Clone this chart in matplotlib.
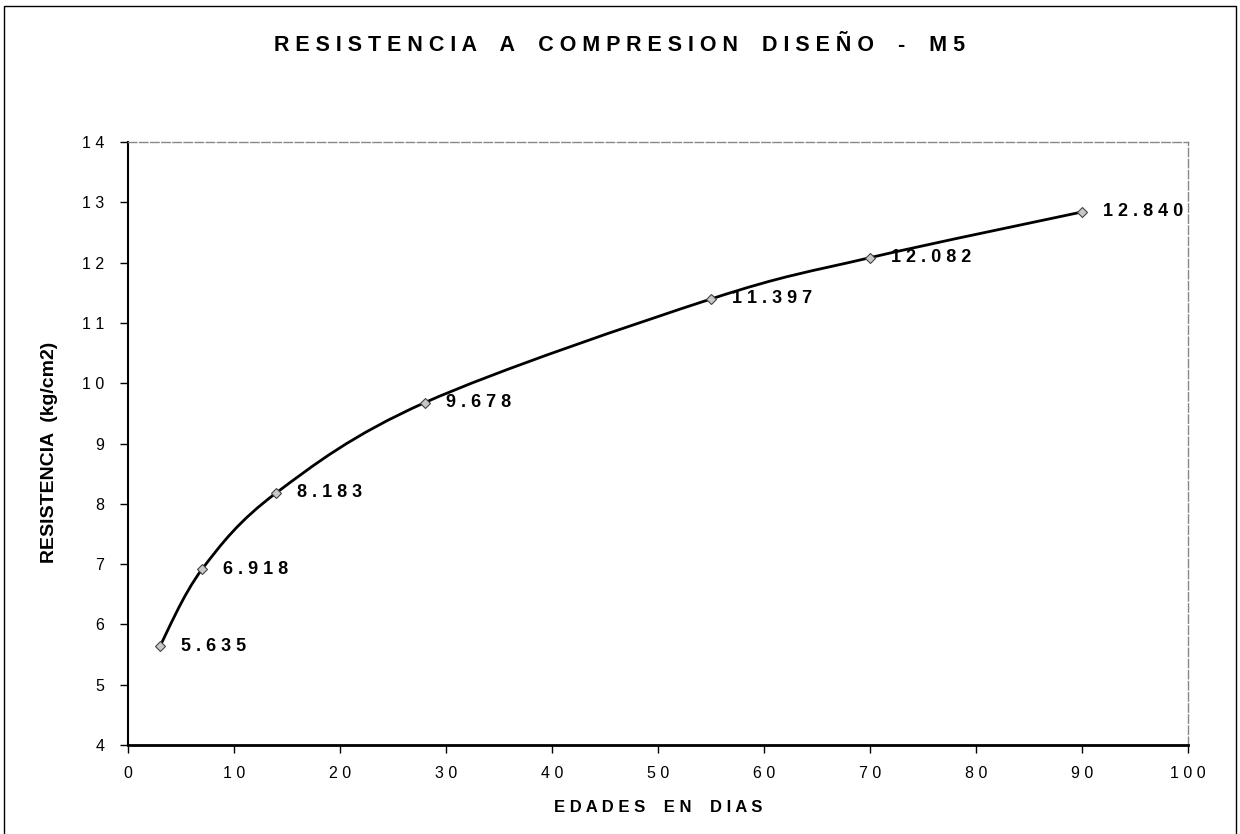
import matplotlib.pyplot as plt
from matplotlib.path import Path
from matplotlib.patches import PathPatch, Rectangle
from matplotlib.ticker import FuncFormatter
import numpy as np

plt.rcParams['font.family'] = ['Liberation Sans', 'DejaVu Sans']

edades = [3, 7, 14, 28, 55, 70, 90]
resistencia = [5.635, 6.918, 8.183, 9.678, 11.397, 12.082, 12.840]
etiquetas = ['5.635', '6.918', '8.183', '9.678', '11.397', '12.082', '12.840']
titulo = 'RESISTENCIA A COMPRESION DISEÑO - M5'


def espaciar(texto):
    # separa las letras como en el formato de la hoja original
    return ' '.join(texto).replace('   ', '    ')


def curva_suave(xs, ys):
    # curva tipo Catmull-Rom convertida a segmentos Bezier
    pts = np.column_stack([xs, ys]).astype(float)
    verts = [pts[0]]
    codes = [Path.MOVETO]
    n = len(pts)
    for i in range(n - 1):
        p0 = pts[i - 1] if i > 0 else pts[i]
        p1 = pts[i]
        p2 = pts[i + 1]
        p3 = pts[i + 2] if i + 2 < n else pts[i + 1]
        c1 = p1 + (p2 - p0) / 6
        c2 = p2 - (p3 - p1) / 6
        verts += [c1, c2, p2]
        codes += [Path.CURVE4] * 3
    return Path(verts, codes)


fig = plt.figure(figsize=(12.4, 8.34), dpi=100)
ax = fig.add_axes([0.1032, 0.1067, 0.8548, 0.7230])

ax.add_patch(PathPatch(curva_suave(edades, resistencia), fill=False,
                       edgecolor='black', lw=2, zorder=3))
ax.plot(edades, resistencia, 'D', ms=5, mfc='#c8c8c8', mec='#444444',
        mew=0.8, zorder=4)
for x, y, t in zip(edades, resistencia, etiquetas):
    ax.annotate(espaciar(t), (x, y), xytext=(15, 0), textcoords='offset points',
                ha='left', va='center', fontsize=13, fontweight='bold')

ax.set_xlim(0, 100)
ax.set_ylim(4, 14)
ax.set_xticks(range(0, 101, 10))
ax.set_yticks(range(4, 15))
digitos = FuncFormatter(lambda v, pos: ' '.join(str(int(v))))
ax.xaxis.set_major_formatter(digitos)
ax.yaxis.set_major_formatter(digitos)
ax.tick_params(direction='out', length=6, width=1, labelsize=11.5)
ax.tick_params(axis='y', pad=11)
ax.tick_params(axis='x', pad=9)

for lado in ['top', 'right']:
    ax.spines[lado].set_color('#888888')
    ax.spines[lado].set_linestyle((0, (6, 2)))
    ax.spines[lado].set_linewidth(1)
ax.spines['left'].set_linewidth(1.5)
ax.spines['bottom'].set_linewidth(2)

ax.set_xlabel(espaciar('EDADES EN DIAS'), fontsize=12, fontweight='bold',
              labelpad=14)
ax.set_ylabel('RESISTENCIA  (kg/cm2)', fontsize=14, fontweight='bold')
ax.yaxis.set_label_coords(-0.066, 0.486)

fig.text(0.5, 0.946, espaciar(titulo), ha='center', va='center',
         fontsize=15.5, fontweight='bold')

# marco alrededor de todo el grafico
fig.patches.append(Rectangle((0.003, -0.05), 0.994, 1.043, transform=fig.transFigure,
                             fill=False, edgecolor='black', lw=1))

fig.savefig('out.png', dpi=100)
